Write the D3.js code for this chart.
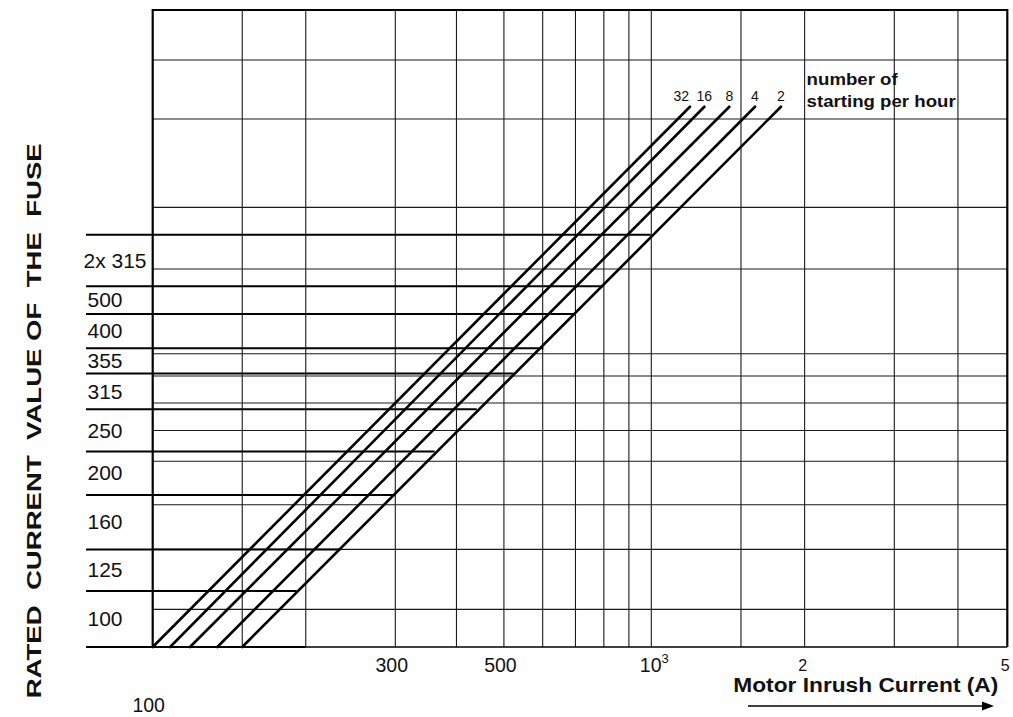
<!DOCTYPE html>
<html><head><meta charset="utf-8">
<script src="https://cdn.jsdelivr.net/npm/d3@7"></script>
<style>body{margin:0;background:#fff}svg{display:block}</style>
</head><body><svg id="c" width="1013" height="717"></svg>
<script>
// ---- data ----
const xGridValues = [150, 200, 300, 400, 500, 600, 700, 800, 900, 1000, 1500, 2000, 3000, 4000];
const xTickValues = [300, 500, 1000, 2000, 5000];
const xTickLabels = ["300", "500", "10^3", "2", "5"];
const yGridValues = [119, 157, 193, 236, 272, 309, 350, 388, 574, 763, 1148, 1508];
const fuseBoundaries = [100, 129.5, 157, 202, 247, 300, 354, 398, 466, 530, 672];
const fuseLineEnds   = [200, 192, 234, 300, 361, 440, 523, 602, 693, 796, 997];
const fuseLabels = ["100", "125", "160", "200", "250", "315", "355", "400", "500", "2x 315"];
const startsPerHour = ["32", "16", "8", "4", "2"];
const diagStartCurrent = [100, 108.2, 118.4, 134, 150];
const diagEndCurrent   = [1191, 1271, 1423, 1598, 1797];
const diagBottomFuse = 100;
const diagTopFuse = 1215;
const yAxisTitle = "RATED  CURRENT  VALUE OF  THE  FUSE";
const xAxisTitle = "Motor Inrush Current (A)";
const legendLines = ["number of", "starting per hour"];

// ---- layout ----
const FONT = "'Liberation Sans', Arial, Helvetica, sans-serif";
const L = 152.7, R = 1007.3, T = 10, B = 647, LABEL_L = 86;
const x = d3.scaleLog().domain([100, 300, 1000, 5000]).range([L, 395.3, 651.3, R]);
const y = d3.scaleLog().domain([100, 1900]).range([B, T]);

const svg = d3.select("#c");
svg.append("rect").attr("width", 1013).attr("height", 717).attr("fill", "#fff");

// helper: place text at (px,py) with a horizontal stretch
function place(sel, px, py, sx) {
  sel.attr("transform", `translate(${px},${py}) scale(${sx},1)`);
  return sel;
}

// vertical grid
svg.append("g").selectAll("line").data(xGridValues).join("line")
  .attr("x1", d => x(d)).attr("x2", d => x(d)).attr("y1", T).attr("y2", B)
  .attr("stroke", "#1a1a1a").attr("stroke-width", 1.1);

// horizontal grid
svg.append("g").selectAll("line").data(yGridValues).join("line")
  .attr("x1", L).attr("x2", R).attr("y1", d => y(d)).attr("y2", d => y(d))
  .attr("stroke", "#1a1a1a").attr("stroke-width", 1.1);

// frame
svg.append("line").attr("x1", L).attr("x2", R).attr("y1", B).attr("y2", B).attr("stroke", "#000").attr("stroke-width", 1.6);
svg.append("path").attr("d", `M${L},${B}V${T}H${R}V${B}`).attr("fill", "none").attr("stroke", "#000").attr("stroke-width", 2.2);

// fuse band lines
svg.append("g").selectAll("line").data(fuseBoundaries).join("line")
  .attr("x1", LABEL_L).attr("x2", (d, i) => x(fuseLineEnds[i]))
  .attr("y1", d => y(d)).attr("y2", d => y(d))
  .attr("stroke", "#000").attr("stroke-width", 2);

// fuse labels (centred in each band)
svg.append("g").selectAll("text").data(fuseLabels).join("text")
  .attr("dy", "0.36em")
  .attr("font-family", FONT).attr("font-size", 20).attr("fill", "#111")
  .text(d => d)
  .each(function (d, i) {
    const py = (y(fuseBoundaries[i]) + y(fuseBoundaries[i + 1])) / 2;
    place(d3.select(this), d.length > 3 ? 83.5 : 87.5, py, 1.05);
  });

// diagonal lines
svg.append("g").selectAll("line").data(startsPerHour).join("line")
  .attr("x1", (d, i) => x(diagStartCurrent[i])).attr("y1", y(diagBottomFuse))
  .attr("x2", (d, i) => x(diagEndCurrent[i])).attr("y2", y(diagTopFuse))
  .attr("stroke", "#000").attr("stroke-width", 2.6).attr("stroke-linecap", "round");

// labels for the diagonals: at each line end, pushed left to keep a minimum gap
const labelX = diagEndCurrent.map(v => x(v));
for (let i = labelX.length - 2; i >= 0; i--) labelX[i] = Math.min(labelX[i], labelX[i + 1] - 23);
svg.append("g").selectAll("text").data(startsPerHour).join("text")
  .attr("x", (d, i) => labelX[i])
  .attr("y", y(diagTopFuse) - 6)
  .attr("text-anchor", "middle")
  .attr("font-family", FONT).attr("font-size", 14).attr("fill", "#111")
  .text(d => d);

// legend text
legendLines.forEach((t, i) => {
  const el = svg.append("text").attr("font-family", FONT).attr("font-weight", "bold")
    .attr("font-size", 16.5).attr("fill", "#111").text(t);
  place(el, x(2000) + 2, 85 + i * 21.7, 1.13);
});

// x tick labels
const xt = svg.append("g");
xTickValues.forEach((v, i) => {
  const lab = xTickLabels[i];
  const small = lab.length === 1;
  const t = xt.append("text").attr("text-anchor", "middle")
    .attr("x", x(v) + (lab.includes("^") ? 3 : small ? -2 : -3.5))
    .attr("y", small ? 671 : 672.3)
    .attr("font-family", FONT).attr("font-size", small ? 16 : 19.5).attr("fill", "#111");
  if (lab.includes("^")) {
    const [b, e] = lab.split("^");
    t.append("tspan").text(b);
    t.append("tspan").attr("dy", -9).attr("font-size", 13).text(e);
  } else t.text(lab);
});
svg.append("text").attr("x", x(100) - 4).attr("y", 711.7).attr("text-anchor", "middle")
  .attr("font-family", FONT).attr("font-size", 19.5).attr("fill", "#111").text("100");

// x axis title + arrow
svg.append("text").attr("x", 733.3).attr("y", 691.7)
  .attr("font-family", FONT).attr("font-weight", "bold").attr("font-size", 20).attr("fill", "#111")
  .attr("textLength", 265).attr("lengthAdjust", "spacingAndGlyphs").text(xAxisTitle);
svg.append("line").attr("x1", 748).attr("x2", 984).attr("y1", 706).attr("y2", 706)
  .attr("stroke", "#000").attr("stroke-width", 1.6);
svg.append("path").attr("d", "M994,706 L982,701.5 L982,710.5 Z").attr("fill", "#000");

// y axis title
svg.append("text").attr("transform", "translate(41,420.8) rotate(-90)")
  .attr("text-anchor", "middle")
  .attr("font-family", FONT).attr("font-weight", "bold").attr("font-size", 21).attr("fill", "#111")
  .attr("textLength", 555).attr("lengthAdjust", "spacingAndGlyphs")
  .style("white-space", "pre").text(yAxisTitle);
</script></body></html>
